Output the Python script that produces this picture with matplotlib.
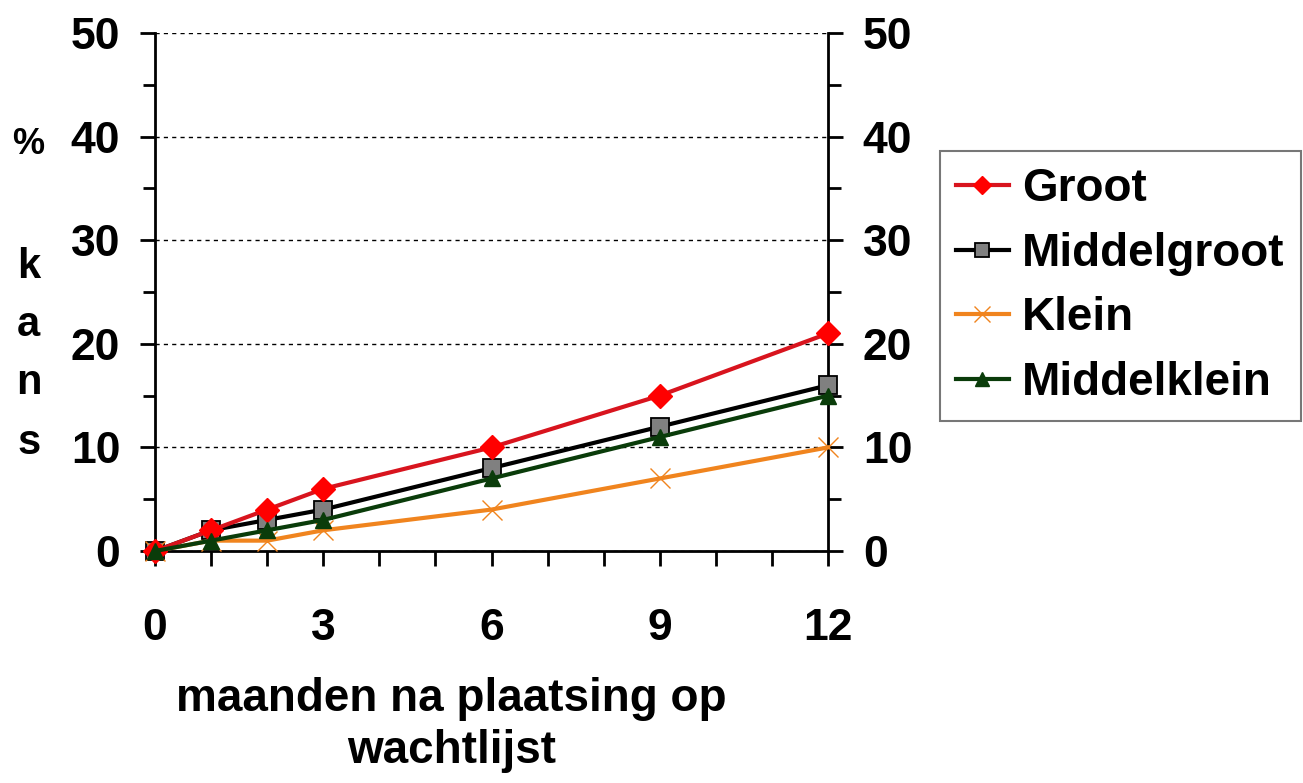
import matplotlib.pyplot as plt
from matplotlib.ticker import MultipleLocator

# kans op plaatsing per groep, in procenten
months = [0, 1, 2, 3, 6, 9, 12]
groot = [0, 2, 4, 6, 10, 15, 21]
middelgroot = [0, 2, 3, 4, 8, 12, 16]
klein = [0, 1, 1, 2, 4, 7, 10]
middelklein = [0, 1, 2, 3, 7, 11, 15]

x_ticks = [0, 3, 6, 9, 12]
y_ticks = [0, 10, 20, 30, 40, 50]

plt.rcParams['font.family'] = ['Liberation Sans', 'DejaVu Sans']
plt.rcParams['font.weight'] = 'bold'

fig = plt.figure(figsize=(13.03, 7.83), dpi=100)
ax = fig.add_axes([0.119, 0.2963, 0.5165, 0.6616])

ax.plot(months, groot, color='#d8141e', lw=3, marker='D', ms=12,
        mfc='#ff0000', mec='#ff0000', label='Groot', clip_on=False, zorder=4)
ax.plot(months, middelgroot, color='black', lw=3, marker='s', ms=13,
        mfc='#808080', mec='black', mew=1.3, label='Middelgroot', clip_on=False, zorder=3)
ax.plot(months, klein, color='#f0841e', lw=3, marker='x', ms=14,
        mec='#f0841e', mew=1.0, label='Klein', clip_on=False, zorder=3)
ax.plot(months, middelklein, color='#0a3c0a', lw=3, marker='^', ms=12,
        mfc='#0a3c0a', mec='#0a3c0a', label='Middelklein', clip_on=False, zorder=5)

ax.set_xlim(0, 12)
ax.set_ylim(0, 50)
ax.set_xticks(x_ticks)
ax.xaxis.set_minor_locator(MultipleLocator(1))
ax.set_yticks(y_ticks)
ax.yaxis.set_minor_locator(MultipleLocator(5))

ax.spines['top'].set_visible(False)
for side in ['left', 'right', 'bottom']:
    ax.spines[side].set_linewidth(2)

ax.tick_params(axis='y', which='both', direction='out', left=True, right=True,
               labelleft=True, labelright=True, width=2)
ax.tick_params(axis='y', which='major', length=11, labelsize=32, pad=14)
ax.tick_params(axis='y', which='minor', length=9)
ax.tick_params(axis='x', which='both', direction='out', width=2, length=11)
ax.tick_params(axis='x', which='major', labelsize=32, pad=30)

ax.yaxis.grid(True, which='major', linestyle=(0, (3, 3)), color='black', lw=1)
ax.set_axisbelow(True)

ax.set_xlabel('maanden na plaatsing op\nwachtlijst', fontsize=33, fontweight='bold',
              labelpad=20, linespacing=1.25, x=0.44)

# verticale y-as titel
fig.text(0.022, 0.815, '%', fontsize=26, ha='center', va='center')
for letter, y in zip('kans', [0.659, 0.585, 0.511, 0.434]):
    fig.text(0.022, y, letter, fontsize=30, ha='center', va='center')

leg = ax.legend(loc='upper left', bbox_to_anchor=(1.166, 0.772), borderaxespad=0,
                fontsize=33, frameon=True, fancybox=False, edgecolor='#555555',
                handlelength=1.15, handletextpad=0.3, labelspacing=0.45,
                borderpad=0.35, markerscale=0.8)
leg.get_frame().set_linewidth(1.5)

fig.savefig('out.png', dpi=100)
